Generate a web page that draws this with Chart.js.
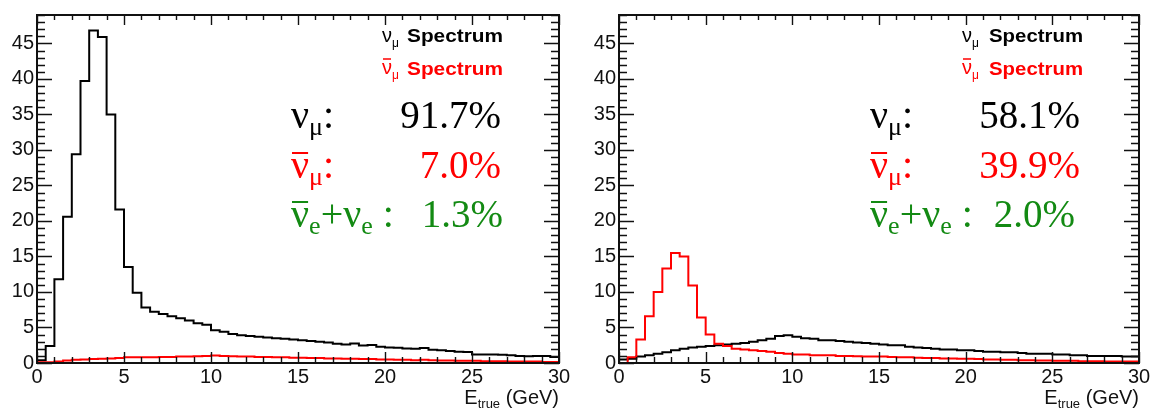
<!DOCTYPE html>
<html>
<head>
<meta charset="utf-8">
<script src="https://cdn.jsdelivr.net/npm/chart.js@4.4.0/dist/chart.umd.min.js"></script>
<style>
  html, body { margin: 0; padding: 0; background: #fff; }
  #wrap { position: relative; width: 1160px; height: 410px; }
  canvas { position: absolute; top: 0; }
  #left { left: 0; }
  #right { left: 580px; }
</style>
</head>
<body>
<div id="wrap">
  <canvas id="left" width="580" height="410"></canvas>
  <canvas id="right" width="580" height="410"></canvas>
</div>
<script>
// true neutrino energy, 0.5 GeV bins from 0 to 30 GeV
const binWidth = 0.5;

// left: neutrino-mode beam
const numuLeft = [
  0.4, 2.4, 11.8, 20.6, 29.4, 39.7, 46.8, 45.9, 35.0, 21.6,
  13.5, 9.9, 7.8, 7.2, 6.9, 6.6, 6.3, 6.0, 5.6, 5.4,
  4.6, 4.4, 4.1, 3.9, 3.8, 3.7, 3.6, 3.5, 3.4, 3.3,
  3.2, 3.1, 3.0, 2.9, 2.7, 2.6, 2.75, 2.45, 2.55, 2.3,
  2.2, 2.15, 2.05, 2.0, 2.1, 1.85, 1.8, 1.7, 1.6, 1.55,
  1.2, 1.2, 1.2, 1.15, 1.1, 1.0, 0.95, 1.0, 1.0, 0.85
];
const numubarLeft = [
  0.1, 0.1, 0.2, 0.35, 0.45, 0.5, 0.55, 0.6, 0.65, 0.7,
  0.8, 0.8, 0.8, 0.8, 0.85, 0.85, 0.9, 0.9, 0.95, 1.0,
  1.05, 1.0, 0.95, 0.9, 0.9, 0.85, 0.85, 0.8, 0.8, 0.75,
  0.75, 0.7, 0.7, 0.65, 0.65, 0.6, 0.6, 0.55, 0.55, 0.5,
  0.5, 0.45, 0.45, 0.4, 0.45, 0.4, 0.35, 0.35, 0.3, 0.3,
  0.3, 0.25, 0.25, 0.25, 0.2, 0.2, 0.2, 0.2, 0.15, 0.15
];

// right: antineutrino-mode beam
const numuRight = [
  0.5, 0.6, 0.9, 1.1, 1.3, 1.5, 1.8, 2.0, 2.2, 2.3,
  2.4, 2.5, 2.6, 2.7, 2.8, 3.0, 3.2, 3.4, 3.8, 3.9,
  3.7, 3.5, 3.4, 3.2, 3.2, 3.1, 3.0, 2.9, 2.8, 2.7,
  2.6, 2.5, 2.5, 2.3, 2.2, 2.1, 2.0, 1.9, 1.9, 1.8,
  1.8, 1.7, 1.6, 1.6, 1.5, 1.5, 1.4, 1.3, 1.3, 1.3,
  1.2, 1.2, 1.1, 1.1, 1.0, 1.0, 1.0, 1.0, 0.9, 0.9
];
const numubarRight = [
  0.0, 0.8, 3.3, 6.6, 10.0, 13.3, 15.5, 15.0, 10.9, 6.4,
  4.0, 2.7, 2.4, 2.0, 1.9, 1.8, 1.7, 1.6, 1.4, 1.3,
  1.2, 1.2, 1.1, 1.1, 1.1, 1.0, 1.0, 0.95, 0.9, 0.9,
  0.9, 0.85, 0.8, 0.8, 0.75, 0.7, 0.7, 0.65, 0.65, 0.6,
  0.6, 0.55, 0.5, 0.5, 0.45, 0.45, 0.4, 0.4, 0.35, 0.35,
  0.3, 0.3, 0.3, 0.25, 0.25, 0.25, 0.2, 0.2, 0.2, 0.2
];

const xTickValues = [0, 5, 10, 15, 20, 25, 30];
const yTickValues = [0, 5, 10, 15, 20, 25, 30, 35, 40, 45];
const xMax = 30;
const yMax = 49;

const fractionsLeft = ['91.7%', '7.0%', '1.3%'];
const fractionsRight = ['58.1%', '39.9%', '2.0%'];

const SANS = '"Liberation Sans", Arial, Helvetica, sans-serif';
const SERIF = '"Liberation Serif", "Times New Roman", serif';
const INK = '#111';
const GREEN = '#138a13';

// one point per bin low edge, plus the upper edge of the last bin
function histPoints(values) {
  const pts = values.map((v, i) => ({ x: i * binWidth, y: v }));
  pts.push({ x: values.length * binWidth, y: values[values.length - 1] });
  return pts;
}

// draw text pieces one after another; returns end x
function drawRun(ctx, x, y, parts, color) {
  ctx.fillStyle = color;
  ctx.strokeStyle = color;
  ctx.textAlign = 'left';
  ctx.textBaseline = 'alphabetic';
  for (const p of parts) {
    ctx.font = p.font;
    const w = ctx.measureText(p.t).width;
    ctx.fillText(p.t, x, y + (p.dy || 0));
    if (p.bar) {
      ctx.lineWidth = p.bar.w;
      ctx.beginPath();
      ctx.moveTo(x + 1, y + p.bar.y);
      ctx.lineTo(x + w - 1, y + p.bar.y);
      ctx.stroke();
    }
    x += w + (p.gap || 0);
  }
  return x;
}

function runWidth(ctx, parts) {
  let w = 0;
  for (const p of parts) { ctx.font = p.font; w += ctx.measureText(p.t).width + (p.gap || 0); }
  return w;
}

// ROOT-like frame with inward ticks on all four sides
const frameTicks = {
  id: 'frameTicks',
  afterDatasetsDraw(chart) {
    const { ctx, chartArea: a, scales: { x, y } } = chart;
    ctx.save();
    ctx.strokeStyle = INK;
    ctx.lineWidth = 1.4;
    ctx.beginPath();
    for (let v = 0; v <= xMax; v++) {
      const px = Math.round(x.getPixelForValue(v)) + 0.5;
      const major = v % 5 === 0;
      ctx.moveTo(px, a.bottom);
      ctx.lineTo(px, a.bottom - (major ? 11 : 6));
      ctx.moveTo(px, a.top);
      ctx.lineTo(px, a.top + (major ? 10 : 5));
    }
    for (let v = 0; v <= yMax; v++) {
      const py = Math.round(y.getPixelForValue(v)) + 0.5;
      const major = v % 5 === 0;
      ctx.moveTo(a.left, py);
      ctx.lineTo(a.left + (major ? 15 : 8), py);
      ctx.moveTo(a.right, py);
      ctx.lineTo(a.right - (major ? 15 : 8), py);
    }
    ctx.stroke();
    ctx.lineWidth = 2;
    ctx.strokeRect(a.left, a.top, a.width, a.height);
    ctx.restore();
  }
};

function makeChart(id, numu, numubar, o) {
  const labels = {
    id: 'labels',
    afterDraw(chart) {
      const ctx = chart.ctx;
      const a = chart.chartArea;
      ctx.save();

      // legend entries
      const lx = 382;
      drawRun(ctx, lx, 42, [
        { t: 'ν', font: `20px ${SANS}` },
        { t: 'μ', font: `12px ${SANS}`, dy: 5 }
      ], '#000');
      drawRun(ctx, lx, 74, [
        { t: 'ν', font: `20px ${SANS}`, bar: { y: -15, w: 1.5 } },
        { t: 'μ', font: `12px ${SANS}`, dy: 5 }
      ], '#ff0000');
      ctx.font = `bold 18px ${SANS}`;
      const sw = ctx.measureText('Spectrum').width;
      const sx = o.specWidth / sw;
      [['#000', 42], ['#ff0000', 75]].forEach(([c, by]) => {
        ctx.save();
        ctx.fillStyle = c;
        ctx.translate(o.specLeft, by);
        ctx.scale(sx, 1);
        ctx.fillText('Spectrum', 0, 0);
        ctx.restore();
      });

      // flavour fractions
      const big = `40px ${SERIF}`, sub = `26px ${SERIF}`;
      const nx = o.nuLeft;
      drawRun(ctx, nx, 128, [
        { t: 'ν', font: big },
        { t: 'μ', font: sub, dy: 7 },
        { t: ':', font: big }
      ], '#000');
      drawRun(ctx, nx, 178, [
        { t: 'ν', font: big, bar: { y: -25, w: 2 } },
        { t: 'μ', font: sub, dy: 7 },
        { t: ':', font: big }
      ], '#ff0000');
      drawRun(ctx, nx, 227, [
        { t: 'ν', font: big, bar: { y: -25, w: 2 } },
        { t: 'e', font: sub, dy: 7 },
        { t: '+', font: big },
        { t: 'ν', font: big },
        { t: 'e', font: sub, dy: 7 },
        { t: ' :', font: big }
      ], GREEN);

      ctx.font = `39px ${SERIF}`;
      ctx.textAlign = 'right';
      ctx.fillStyle = '#000';
      ctx.fillText(o.fractions[0], o.valRight[0], 128);
      ctx.fillStyle = '#ff0000';
      ctx.fillText(o.fractions[1], o.valRight[1], 178);
      ctx.fillStyle = GREEN;
      ctx.fillText(o.fractions[2], o.valRight[2], 227);

      // x axis title, right-aligned to the axis end
      const title = [
        { t: 'E', font: `20px ${SANS}` },
        { t: 'true', font: `13px ${SANS}`, dy: 4 },
        { t: ' (GeV)', font: `20px ${SANS}` }
      ];
      drawRun(ctx, a.right - runWidth(ctx, title), 404, title, INK);
      ctx.restore();
    }
  };

  return new Chart(document.getElementById(id), {
    type: 'line',
    data: {
      datasets: [
        {
          label: 'νμ Spectrum',
          data: histPoints(numu),
          borderColor: '#000',
          borderWidth: 2,
          stepped: 'before',
          pointRadius: 0,
          fill: false,
          order: 2
        },
        {
          label: 'anti-νμ Spectrum',
          data: histPoints(numubar),
          borderColor: '#ff0000',
          borderWidth: 2,
          stepped: 'before',
          pointRadius: 0,
          fill: false,
          order: 1
        }
      ]
    },
    options: {
      responsive: false,
      animation: false,
      devicePixelRatio: 1,
      layout: { padding: { top: 9, right: 21, left: 0, bottom: 0 } },
      plugins: { legend: { display: false }, tooltip: { enabled: false } },
      scales: {
        x: {
          type: 'linear',
          min: 0,
          max: xMax,
          afterBuildTicks: s => { s.ticks = xTickValues.map(v => ({ value: v })); },
          afterFit: s => { s.height = 47; },
          grid: { display: false, drawTicks: false },
          border: { display: false },
          ticks: {
            autoSkip: false,
            maxRotation: 0,
            padding: 2,
            color: INK,
            font: { family: SANS, size: 20 }
          }
        },
        y: {
          min: 0,
          max: yMax,
          afterBuildTicks: s => { s.ticks = yTickValues.map(v => ({ value: v })); },
          afterFit: s => { s.width = o.yWidth; },
          grid: { display: false, drawTicks: false },
          border: { display: false },
          ticks: {
            padding: 3,
            color: INK,
            font: { family: SANS, size: 20 }
          }
        }
      }
    },
    plugins: [frameTicks, labels]
  });
}

makeChart('left', numuLeft, numubarLeft, {
  yWidth: 37,
  nuLeft: 291,
  specLeft: 407,
  specWidth: 96,
  fractions: fractionsLeft,
  valRight: [501, 501, 503]
});
makeChart('right', numuRight, numubarRight, {
  yWidth: 39,
  nuLeft: 290,
  specLeft: 409,
  specWidth: 94,
  fractions: fractionsRight,
  valRight: [500, 500, 495]
});
</script>
</body>
</html>
